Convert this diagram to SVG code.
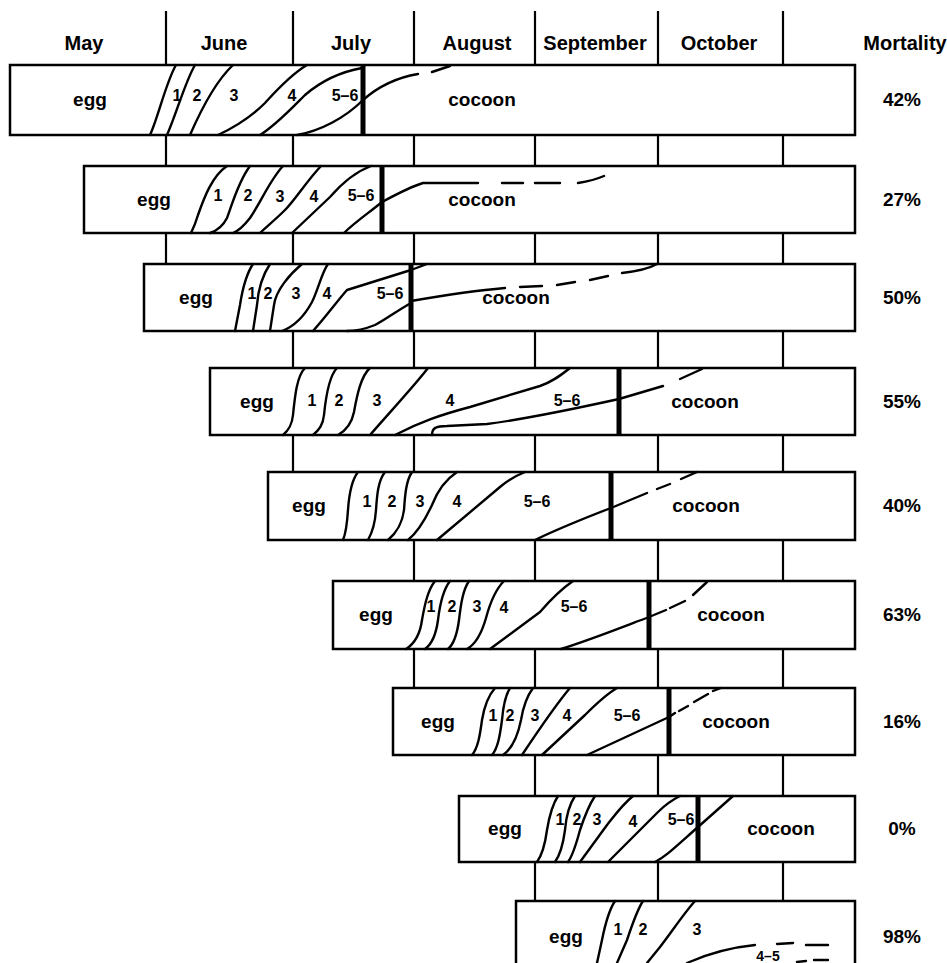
<svg xmlns="http://www.w3.org/2000/svg" width="947" height="963" viewBox="0 0 947 963">
<style>
.bar{fill:#fff;stroke:#000;stroke-width:2.5}
.g{stroke:#000;stroke-width:2.2;fill:none}
.c{fill:none;stroke:#000;stroke-width:2.4;stroke-linecap:round;stroke-linejoin:round}
.th{stroke:#000;stroke-width:5}
text{font-family:"Liberation Sans",Arial,Helvetica,sans-serif;font-weight:bold;text-anchor:middle;fill:#000}
.h{font-size:20px}
.t{font-size:19px}
.n{font-size:16px}
.s{font-size:14px}
</style>
<rect width="947" height="963" fill="#fff"/>
<g id="header">
<text class="h" x="84" y="50">May</text>
<text class="h" x="224" y="50">June</text>
<text class="h" x="351" y="50">July</text>
<text class="h" x="477" y="50">August</text>
<text class="h" x="595" y="50">September</text>
<text class="h" x="719" y="50">October</text>
<text class="h" x="905" y="50">Mortality</text>
</g>
<g id="connectors" class="g">
<path d="M166,11V65M293,11V65M414,11V65M535,11V65M658,11V65M783,11V65"/>
<path d="M166,135V166M293,135V166M414,135V166M535,135V166M658,135V166M783,135V166"/>
<path d="M166,233V264M293,233V264M414,233V264M535,233V264M658,233V264M783,233V264"/>
<path d="M293,331V368M414,331V368M535,331V368M658,331V368M783,331V368"/>
<path d="M293,435V472M414,435V472M535,435V472M658,435V472M783,435V472"/>
<path d="M414,540V581M535,540V581M658,540V581M783,540V581"/>
<path d="M414,649V688M535,649V688M658,649V688M783,649V688"/>
<path d="M535,755V796M658,755V796M783,755V796"/>
<path d="M535,862V901M658,862V901M783,862V901"/>
</g>
<g id="bar1">
<rect class="bar" x="10" y="65" width="845" height="70"/>
<path class="c" d="M176,65 C166,82 158,118 150,135"/>
<path class="c" d="M195,65 C185,82 176,115 167,135"/>
<path class="c" d="M233,65 C215,82 200,112 190,135"/>
<path class="c" d="M307,65 C290,75 275,92 265,103 C250,118 235,127 218,135"/>
<path class="c" d="M362,68 C340,72 320,82 305,95 C290,110 275,126 260,135"/>
<path class="c" d="M297,135 C320,131 345,118 363,100 C380,85 400,77 418,74"/>
<path class="c" d="M432,72 L450,66"/>
<line class="th" x1="363" y1="65" x2="363" y2="135"/>
<text class="n" x="177" y="101">1</text>
<text class="n" x="197" y="101">2</text>
<text class="n" x="234" y="101">3</text>
<text class="n" x="292" y="101">4</text>
<text class="n" x="345" y="101">5–6</text>
<text class="t" x="90" y="106">egg</text>
<text class="t" x="482" y="106">cocoon</text>
<text class="t" x="902" y="106">42%</text>
</g>
<g id="bar2">
<rect class="bar" x="84" y="166" width="771" height="67"/>
<path class="c" d="M227,166 C212,176 204,198 198,215 C195,225 193,229 191,233"/>
<path class="c" d="M250,166 C238,182 232,205 227,218 C222,228 216,231 210,233"/>
<path class="c" d="M283,166 C270,180 262,200 250,218 C243,227 238,231 233,233"/>
<path class="c" d="M321,166 C306,182 295,200 285,210 C275,220 265,228 260,233"/>
<path class="c" d="M371,166 C355,172 343,182 330,197 L292,233"/>
<path class="c" d="M344,233 C355,222 370,212 382,202 C395,195 410,187 423,183 L478,183"/>
<path class="c" d="M502,183 L523,183 M535,183 L560,183 M578,183 C590,181 597,179 604,176"/>
<line class="th" x1="382" y1="166" x2="382" y2="233"/>
<text class="n" x="218" y="201">1</text>
<text class="n" x="248" y="201">2</text>
<text class="n" x="280" y="202">3</text>
<text class="n" x="314" y="202">4</text>
<text class="n" x="361" y="201">5–6</text>
<text class="t" x="154" y="206">egg</text>
<text class="t" x="482" y="206">cocoon</text>
<text class="t" x="902" y="206">27%</text>
</g>
<g id="bar3">
<rect class="bar" x="144" y="264" width="711" height="67"/>
<path class="c" d="M253,264 C245,276 242,292 240,305 L235,331"/>
<path class="c" d="M270,264 C262,276 258,292 257,305 L253,331"/>
<path class="c" d="M302,264 C290,274 276,290 274,305 L270,331"/>
<path class="c" d="M328,264 C322,272 318,290 312,302 C305,315 295,326 282,331"/>
<path class="c" d="M427,264 L411,270 L347,290 C338,300 325,318 313,331"/>
<path class="c" d="M411,303 C395,312 385,320 375,325 C365,329 355,331 347,331"/>
<path class="c" d="M411,301 C440,296 470,291 505,288"/>
<path class="c" d="M520,287 L542,286 M557,285 L575,282 M590,280 L608,276 M622,273 C640,271 650,268 657,264"/>
<line class="th" x1="411" y1="264" x2="411" y2="331"/>
<text class="n" x="252" y="299">1</text>
<text class="n" x="268" y="299">2</text>
<text class="n" x="296" y="299">3</text>
<text class="n" x="327" y="299">4</text>
<text class="n" x="390" y="299">5–6</text>
<text class="t" x="196" y="304">egg</text>
<text class="t" x="516" y="304">cocoon</text>
<text class="t" x="902" y="304">50%</text>
</g>
<g id="bar4">
<rect class="bar" x="210" y="368" width="645" height="67"/>
<path class="c" d="M305,368 C297,376 295,395 293,415 C292,425 289,430 283,435"/>
<path class="c" d="M337,368 C329,376 326,395 324,415 C323,425 319,430 313,435"/>
<path class="c" d="M370,368 C361,376 357,395 354,412 C352,422 347,430 338,435"/>
<path class="c" d="M428,368 C415,385 390,412 370,435"/>
<path class="c" d="M570,368 C560,376 552,382 540,386 L470,407 C440,415 420,422 395,435"/>
<path class="c" d="M432,435 C432,428 436,426 447,426 L487,424 C510,421 560,412 619,399 L663,386"/>
<path class="c" d="M680,379 L702,369"/>
<line class="th" x1="619" y1="368" x2="619" y2="435"/>
<text class="n" x="312" y="406">1</text>
<text class="n" x="339" y="406">2</text>
<text class="n" x="377" y="406">3</text>
<text class="n" x="450" y="406">4</text>
<text class="n" x="567" y="406">5–6</text>
<text class="t" x="257" y="408">egg</text>
<text class="t" x="705" y="408">cocoon</text>
<text class="t" x="902" y="408">55%</text>
</g>
<g id="bar5">
<rect class="bar" x="268" y="472" width="587" height="68"/>
<path class="c" d="M358,472 C351,481 349,495 348,510 C347,525 346,533 343,540"/>
<path class="c" d="M385,472 C378,481 377,495 376,510 C375,525 372,533 368,540"/>
<path class="c" d="M412,472 C406,481 405,495 404,510 C402,525 396,533 388,540"/>
<path class="c" d="M457,472 C445,480 437,492 432,505 C425,520 418,532 408,540"/>
<path class="c" d="M525,472 C515,476 508,480 500,487 L437,540"/>
<path class="c" d="M535,540 C560,528 585,518 611,508 L647,493"/>
<path class="c" d="M657,489 L670,484 M681,479 L697,472"/>
<line class="th" x1="611" y1="472" x2="611" y2="540"/>
<text class="n" x="367" y="507">1</text>
<text class="n" x="392" y="507">2</text>
<text class="n" x="420" y="507">3</text>
<text class="n" x="457" y="507">4</text>
<text class="n" x="537" y="507">5–6</text>
<text class="t" x="309" y="512">egg</text>
<text class="t" x="706" y="512">cocoon</text>
<text class="t" x="902" y="512">40%</text>
</g>
<g id="bar6">
<rect class="bar" x="333" y="581" width="522" height="68"/>
<path class="c" d="M435,581 C428,590 425,603 422,620 C420,635 414,644 406,649"/>
<path class="c" d="M450,581 C443,590 440,603 438,620 C436,635 432,644 425,649"/>
<path class="c" d="M469,581 C463,590 461,603 459,620 C457,635 454,644 448,649"/>
<path class="c" d="M504,581 C495,590 490,603 486,618 C482,632 476,644 467,649"/>
<path class="c" d="M573,581 C560,590 552,598 540,612 L490,649"/>
<path class="c" d="M561,649 C590,640 620,628 649,617 L666,610"/>
<path class="c" d="M670,608 L685,601 M693,595 L707,582"/>
<line class="th" x1="649" y1="581" x2="649" y2="649"/>
<text class="n" x="431" y="612">1</text>
<text class="n" x="452" y="612">2</text>
<text class="n" x="477" y="612">3</text>
<text class="n" x="504" y="613">4</text>
<text class="n" x="574" y="612">5–6</text>
<text class="t" x="376" y="621">egg</text>
<text class="t" x="731" y="621">cocoon</text>
<text class="t" x="902" y="621">63%</text>
</g>
<g id="bar7">
<rect class="bar" x="393" y="688" width="462" height="67"/>
<path class="c" d="M495,688 C488,696 484,708 482,720 C480,735 478,748 472,755"/>
<path class="c" d="M510,688 C505,696 503,708 502,720 C500,735 498,748 492,755"/>
<path class="c" d="M533,688 C527,696 523,708 521,720 C518,735 513,748 503,755"/>
<path class="c" d="M570,688 C558,702 540,728 522,755"/>
<path class="c" d="M617,688 C605,695 595,705 585,715 L542,755"/>
<path class="c" d="M587,755 L669,717 L675,713"/>
<path class="c" d="M679,711 L688,706 M694,702 L708,694 M713,691 L721,688"/>
<line class="th" x1="669" y1="688" x2="669" y2="755"/>
<text class="n" x="493" y="721">1</text>
<text class="n" x="510" y="721">2</text>
<text class="n" x="535" y="721">3</text>
<text class="n" x="567" y="721">4</text>
<text class="n" x="627" y="721">5–6</text>
<text class="t" x="438" y="728">egg</text>
<text class="t" x="736" y="728">cocoon</text>
<text class="t" x="902" y="728">16%</text>
</g>
<g id="bar8">
<rect class="bar" x="459" y="796" width="396" height="66"/>
<path class="c" d="M558,796 C552,805 549,818 547,830 C545,845 542,855 537,862"/>
<path class="c" d="M575,796 C569,805 566,818 565,830 C563,845 560,855 555,862"/>
<path class="c" d="M595,796 C589,805 584,818 580,830 C576,845 573,855 568,862"/>
<path class="c" d="M633,796 C622,805 615,815 607,825 L580,862"/>
<path class="c" d="M680,796 C672,800 665,805 658,812 L608,862"/>
<path class="c" d="M655,862 C665,857 672,850 698,827 L733,796"/>
<line class="th" x1="698" y1="796" x2="698" y2="862"/>
<text class="n" x="560" y="825">1</text>
<text class="n" x="577" y="825">2</text>
<text class="n" x="597" y="825">3</text>
<text class="n" x="633" y="827">4</text>
<text class="n" x="681" y="825">5–6</text>
<text class="t" x="505" y="835">egg</text>
<text class="t" x="781" y="835">cocoon</text>
<text class="t" x="902" y="835">0%</text>
</g>
<g id="bar9">
<rect class="bar" x="516" y="901" width="339" height="80"/>
<path class="c" d="M615,901 C609,910 605,925 602,940 L597,963"/>
<path class="c" d="M643,901 C637,910 632,925 627,940 L617,963"/>
<path class="c" d="M695,901 C685,912 673,930 660,947 L647,963"/>
<path class="c" d="M687,963 C705,955 725,948 755,945"/>
<path class="c" d="M777,944 L793,943 M806,945 L828,945 M797,962 L806,961 M814,960 L828,960"/>
<text class="n" x="618" y="935">1</text>
<text class="n" x="643" y="935">2</text>
<text class="n" x="697" y="935">3</text>
<text class="s" x="768" y="961">4–5</text>
<text class="t" x="566" y="943">egg</text>
<text class="t" x="902" y="943">98%</text>
</g>
</svg>
